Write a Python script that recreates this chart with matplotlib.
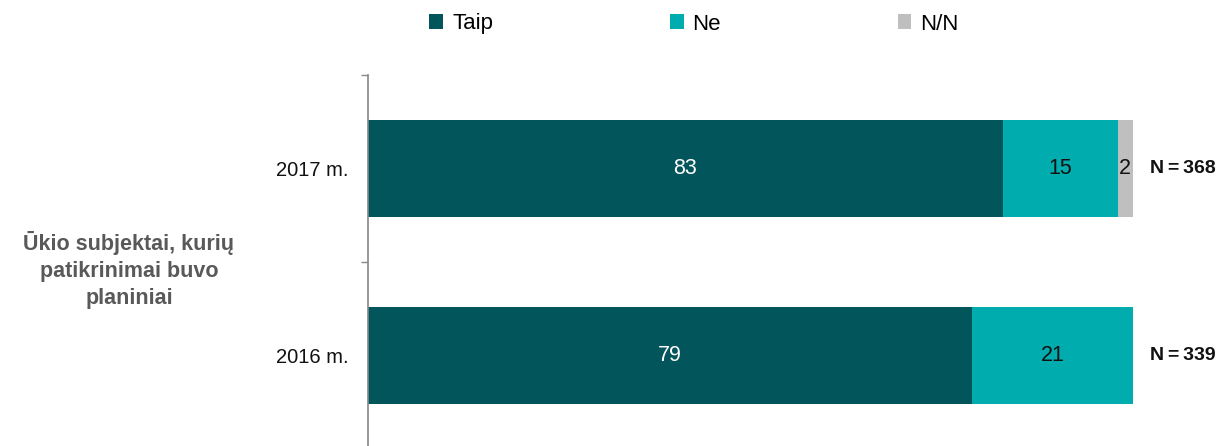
import matplotlib
matplotlib.use("Agg")
import matplotlib.pyplot as plt
import numpy as np

plt.rcParams['font.family'] = ['Liberation Sans', 'DejaVu Sans']

categories = ["2016 m.", "2017 m."]
series_names = ["Taip", "Ne", "N/N"]
taip = [79, 83]
ne = [21, 15]
nn = [0, 2]
n_labels = ["N\u2009=\u2009339", "N\u2009=\u2009368"]
group_label = "Ūkio subjektai, kurių\npatikrinimai buvo\nplaniniai"

colors = ["#02555A", "#00ACAD", "#BFBFBF"]
text_colors = ["white", "#111111", "#111111"]

fig = plt.figure(figsize=(12.18, 4.46), dpi=100)
W, H = 1218, 446
ax = fig.add_axes([368 / W, -3 / H, (1133 - 368) / W, (449 - 75) / H])

y = np.arange(len(categories))
left = np.zeros(len(categories))
handles = []
for vals, name, col, tcol in zip([taip, ne, nn], series_names, colors, text_colors):
    vals = np.array(vals, dtype=float)
    bars = ax.barh(y, vals, left=left, height=0.515, color=col, label=name,
                   edgecolor='none')
    handles.append(bars)
    for yi, (l, v) in enumerate(zip(left, vals)):
        if v > 0:
            ax.text(l + v / 2, yi, f"{int(v)}", ha='center', va='center',
                    color=tcol, fontsize=15.5)
    left = left + vals

for yi, lab in enumerate(n_labels):
    ax.annotate(lab, xy=(left[yi], yi), xytext=(12, 0), textcoords='offset points',
                ha='left', va='center', fontsize=14, fontweight='bold', color='#111111')

ax.set_xlim(0, 100)
ax.set_ylim(-0.5, 1.5)
ax.set_yticks(y)
ax.set_yticklabels(categories, fontsize=14.5, color='#111111')
ax.set_yticks([-0.5, 0.5, 1.5], minor=True)
ax.tick_params(axis='y', which='major', length=0, pad=14)
ax.tick_params(axis='y', which='minor', length=5, color='#888888', width=1)
ax.xaxis.set_visible(False)
for s in ['top', 'right', 'bottom']:
    ax.spines[s].set_visible(False)
ax.spines['left'].set_color('#888888')
ax.spines['left'].set_linewidth(1.2)

ax.text(-0.3125, 0.478, group_label, transform=ax.transAxes, ha='center', va='center',
        fontsize=15.5, fontweight='bold', color='#595959', linespacing=1.38)

fig.legend(handles=handles, labels=series_names, loc='center',
           bbox_to_anchor=(694 / W, 1 - 24 / H), ncol=3, frameon=False,
           fontsize=16, handlelength=0.62, handleheight=0.62, handletextpad=0.4,
           columnspacing=7.95)

fig.savefig("out.png", dpi=100)
